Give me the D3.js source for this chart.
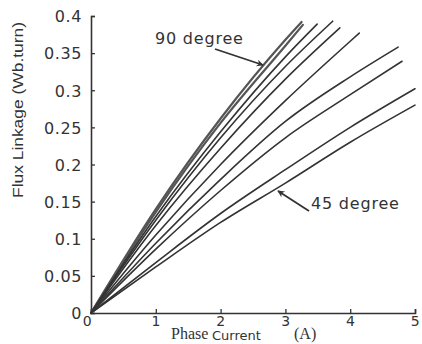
<!DOCTYPE html>
<html><head><meta charset="utf-8">
<script src="https://cdn.jsdelivr.net/npm/d3@7"></script>
<style>html,body{margin:0;padding:0;background:#fff;}svg{display:block;}</style>
</head><body>
<script>
// x sample positions (A) and flux linkage values (Wb.turn) per rotor angle
const angles = [90, 85, 80, 75, 70, 65, 60, 55, 50, 45];
const xs90 = [0, 1, 2, 3, 3.25];
const ys90 = [0, 0.140, 0.262, 0.368, 0.392];
const xs85 = [0, 1, 2, 3, 3.27];
const ys85 = [0, 0.136, 0.256, 0.360, 0.388];
const xs80 = [0, 1, 2, 3, 3.49];
const ys80 = [0, 0.130, 0.244, 0.345, 0.389];
const xs75 = [0, 1, 2, 3, 3.73];
const ys75 = [0, 0.125, 0.236, 0.332, 0.393];
const xs70 = [0, 1, 2, 3, 3.84];
const ys70 = [0, 0.118, 0.222, 0.315, 0.384];
const xs65 = [0, 1, 2, 3, 4, 4.14];
const ys65 = [0, 0.105, 0.200, 0.286, 0.366, 0.377];
const xs60 = [0, 1, 2, 3, 4, 4.74];
const ys60 = [0, 0.094, 0.180, 0.258, 0.318, 0.358];
const xs55 = [0, 1, 2, 3, 4, 4.80];
const ys55 = [0, 0.086, 0.165, 0.236, 0.294, 0.339];
const xs50 = [0, 1, 2, 3, 4, 5.0];
const ys50 = [0, 0.068, 0.134, 0.193, 0.250, 0.302];
const xs45 = [0, 1, 2, 3, 4, 5.0];
const ys45 = [0, 0.062, 0.122, 0.175, 0.230, 0.280];
const xTicks = [0, 1, 2, 3, 4, 5];
const yTicks = [0, 0.05, 0.1, 0.15, 0.2, 0.25, 0.3, 0.35, 0.4];
const yTickLabels = ["0", "0.05", "0.1", "0.15", "0.2", "0.25", "0.3", "0.35", "0.4"];

const seriesX = [xs90, xs85, xs80, xs75, xs70, xs65, xs60, xs55, xs50, xs45];
const seriesY = [ys90, ys85, ys80, ys75, ys70, ys65, ys60, ys55, ys50, ys45];

const W = 422, H = 344;
const svg = d3.select("body").append("svg").attr("width", W).attr("height", H);
const x = d3.scaleLinear().domain([0, 5]).range([91, 415]);
const y = d3.scaleLinear().domain([0, 0.4]).range([313, 16]);
const ink = "#333";

// axes
const xAxis = svg.append("g").attr("transform", `translate(0,${y(0)})`)
  .call(d3.axisBottom(x).tickValues(xTicks).tickSize(-4).tickFormat(d3.format("d")).tickPadding(3));
const yAxis = svg.append("g").attr("transform", `translate(${x(0)},0)`)
  .call(d3.axisLeft(y).tickValues(yTicks).tickSize(-4).tickFormat((d, i) => yTickLabels[i]).tickPadding(9));
[xAxis, yAxis].forEach(g => {
  g.select(".domain").attr("stroke", ink).attr("stroke-width", 1.6);
  g.selectAll(".tick line").attr("stroke", ink).attr("stroke-width", 1.3);
  g.selectAll("text").attr("fill", ink).attr("font-family", "DejaVu Sans, sans-serif")
    .attr("font-size", 16).style("letter-spacing", "0.6px");
});
yAxis.selectAll(".tick text").attr("dy", "0.36em");
xAxis.selectAll(".tick text").attr("font-size", 14).attr("dy", "0.71em");
xAxis.selectAll(".tick").filter(d => d === 0).select("text").attr("dx", -4);

// curves
const line = d3.line().x(d => x(d[0])).y(d => y(d[1])).curve(d3.curveMonotoneX);
seriesX.forEach((xsArr, i) => {
  const pts = xsArr.map((v, j) => [v, seriesY[i][j]]);
  svg.append("path").datum(pts).attr("d", line)
    .attr("fill", "none")
    .attr("stroke", i < 2 ? "#555" : ink)
    .attr("stroke-width", i < 2 ? 2.2 : 1.6)
    .attr("stroke-linecap", "round");
});

// axis titles
svg.append("text").attr("transform", "translate(23,110) rotate(-90)")
  .attr("text-anchor", "middle").attr("font-family", "Liberation Sans, Arial, sans-serif")
  .attr("font-size", 15).attr("fill", ink)
  .attr("textLength", 176).attr("lengthAdjust", "spacingAndGlyphs")
  .text("Flux Linkage (Wb.turn)");
svg.append("text").attr("x", 171).attr("y", 339).attr("font-family", "Liberation Serif, Times New Roman, serif")
  .attr("font-size", 16).attr("fill", ink).text("Phase");
svg.append("text").attr("x", 212).attr("y", 340).attr("font-family", "DejaVu Sans, sans-serif")
  .attr("font-size", 13).attr("fill", ink).text("Current");
svg.append("text").attr("x", 294).attr("y", 339).attr("font-family", "Liberation Serif, Times New Roman, serif")
  .attr("font-size", 16).attr("fill", ink).text("(A)");

// annotations
const defs = svg.append("defs");
defs.append("marker").attr("id", "ah").attr("viewBox", "0 0 10 10").attr("refX", 9).attr("refY", 5)
  .attr("markerWidth", 9).attr("markerHeight", 7).attr("orient", "auto").attr("markerUnits", "userSpaceOnUse")
  .append("path").attr("d", "M0,0 L10,5 L0,10 L3,5 Z").attr("fill", ink);
svg.append("text").attr("x", 155).attr("y", 44).attr("font-family", "DejaVu Sans, sans-serif")
  .attr("font-size", 16).attr("fill", ink).style("letter-spacing", "0.8px").text("90 degree");
svg.append("line").attr("x1", 215).attr("y1", 49).attr("x2", 263).attr("y2", 65)
  .attr("stroke", ink).attr("stroke-width", 1.8).attr("marker-end", "url(#ah)");
svg.append("text").attr("x", 311).attr("y", 209).attr("font-family", "DejaVu Sans, sans-serif")
  .attr("font-size", 16).attr("fill", ink).style("letter-spacing", "0.8px").text("45 degree");
svg.append("line").attr("x1", 309).attr("y1", 211).attr("x2", 278).attr("y2", 191)
  .attr("stroke", ink).attr("stroke-width", 1.8).attr("marker-end", "url(#ah)");
</script>
</body></html>
